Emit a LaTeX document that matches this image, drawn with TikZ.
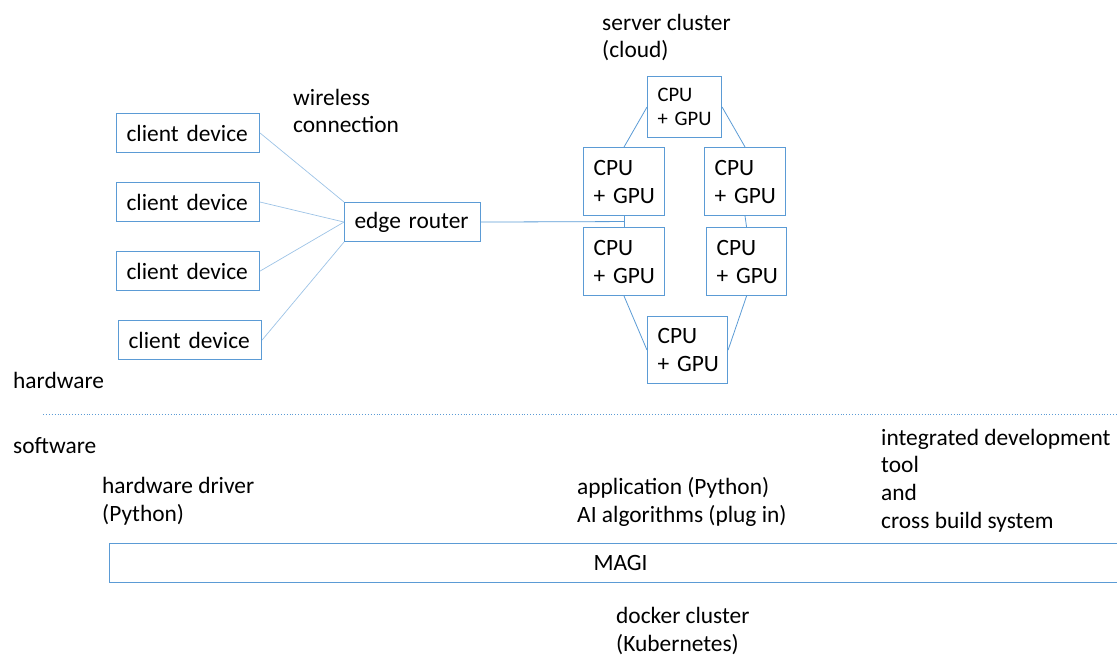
\documentclass[tikz,border=0pt]{standalone}
\usepackage{fontspec}
\setmainfont{Carlito}
\definecolor{boxblue}{RGB}{91,155,213}
\definecolor{lineblue}{RGB}{157,195,230}
\newcommand\cpugpu{CPU\\\mbox{+ GPU}}
\begin{document}
\begin{tikzpicture}[x=1pt,y=-1pt,
  txt/.style={inner sep=0pt,anchor=base west,align=left,font=\fontsize{23.4}{27.6}\selectfont},
  boxn/.style={draw=boxblue,line width=1.1pt,rectangle,anchor=north west,inner ysep=0pt,inner xsep=10pt,align=left,font=\fontsize{23.4}{28}\selectfont},
  client/.style={boxn,minimum width=143pt,minimum height=39pt,text width=123pt},
  gpu/.style={boxn,minimum width=81pt,minimum height=68pt,text width=61pt},
  gpusmall/.style={boxn,minimum width=74pt,minimum height=61pt,text width=54pt,font=\fontsize{20.6}{24.5}\selectfont},
  wire/.style={draw=lineblue,line width=0.7pt},
  link/.style={draw=boxblue,line width=0.8pt}]
\useasboundingbox (0,0) rectangle (1117,655);
\clip (0,0) rectangle (1117,655);
% texts (anchor = baseline of last line)
\node[txt] (srv) at (602,58) {server cluster\\(cloud)};
\node[txt] (wl) at (293,133) {wireless\\connection};
\node[txt] (hw) at (13,388) {hardware};
\node[txt] (sw) at (13,453) {software};
\node[txt] (drv) at (102,521) {hardware driver\\(Python)};
\node[txt] (app) at (577,522) {application (Python)\\AI algorithms (plug in)};
\node[txt] (ide) at (881,528) {integrated development\\tool\\and\\cross build system};
\node[txt] (dock) at (616,651) {docker cluster\\(Kubernetes)};
% client devices
\node[client] (c1) at (116,113) {client device};
\node[client] (c2) at (116,182) {client device};
\node[client] (c3) at (116,251) {client device};
\node[client] (c4) at (118,320) {client device};
\node[client,minimum width=136pt,text width=116pt] (rt) at (344,202) {edge router};
% gpu nodes
\node[gpusmall] (g0) at (647,76) {\cpugpu};
\node[gpu] (g1) at (583,147) {\cpugpu};
\node[gpu] (g2) at (704,147) {\cpugpu};
\node[gpu] (g3) at (583,227) {\cpugpu};
\node[gpu,minimum width=80pt,text width=60pt] (g4) at (706,227) {\cpugpu};
\node[gpu,minimum width=80pt,text width=60pt,minimum height=67pt] (g5) at (647,316) {\cpugpu};
% MAGI
\node[draw=boxblue,line width=1.1pt,rectangle,minimum width=1022pt,minimum height=39pt,anchor=north west,inner sep=0pt,font=\fontsize{23.4}{27.3}\selectfont] (magi) at (109,543) {MAGI};
% wireless links
\draw[wire] (c1.east) -- (rt.north west);
\draw[wire] (c2.east) -- (rt.west);
\draw[wire] (c3.east) -- (rt.west);
\draw[wire] (c4.east) -- (rt.south west);
% cluster links
\draw[link] (g1.south) -- coordinate[pos=0.5] (mid) (g3.north);
\draw[link] (rt.east) -- (mid);
\draw[link] (g0.west) -- (g1.north);
\draw[link] (g0.east) -- (g2.north);
\draw[link] (g2.south) -- (g4.north);
\draw[link] (g3.south) -- (g5.west);
\draw[link] (g4.south) -- (g5.east);
% divider
\coordinate (dl) at (43,414);
\coordinate (dr) at (1117,414);
\draw[draw=boxblue,line width=0.9pt,dotted] (dl) -- (dr);
\end{tikzpicture}
\end{document}
